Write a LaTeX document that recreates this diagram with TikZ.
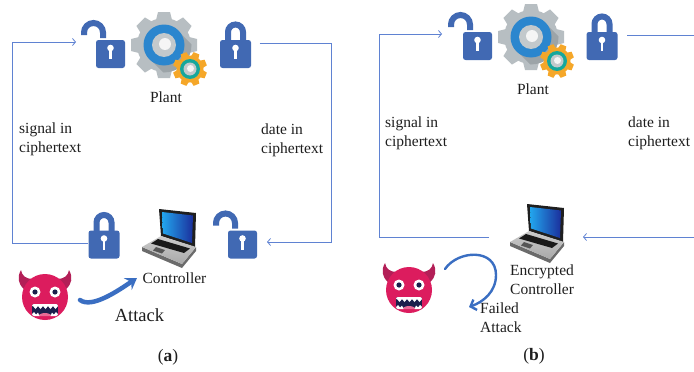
\documentclass[tikz,border=0pt]{standalone}
\usepackage{fontspec}
\setmainfont{Liberation Serif}
\usetikzlibrary{arrows.meta,calc}

\definecolor{lockblue}{HTML}{4169B3}
\definecolor{flowc}{HTML}{5F82D2}
\definecolor{attackc}{HTML}{3A6EC2}
\definecolor{geargray}{HTML}{B7BEC2}
\definecolor{gearshadow}{HTML}{9CA4A8}
\definecolor{gearblue}{HTML}{2B86CE}
\definecolor{gearinner}{HTML}{C3C9CC}
\definecolor{gearorange}{HTML}{F5A729}
\definecolor{gearteal}{HTML}{16A79C}
\definecolor{devilred}{HTML}{DC1C5E}
\definecolor{devilhorn}{HTML}{B31F57}
\definecolor{devilnavy}{HTML}{1B1F4C}
\definecolor{lapgray}{HTML}{A9A9A9}
\definecolor{lapdark}{HTML}{6B6B6B}
\definecolor{screenl}{HTML}{22A6EE}
\definecolor{screenr}{HTML}{1B2F9C}
\definecolor{textc}{HTML}{1E1E1E}

\tikzset{
  % padlock, shackle closed
  lockshut/.pic={
    \fill[lockblue, rounded corners=2.5pt] (-15.5,-24) rectangle (15.5,4);
    \draw[lockblue, line width=6pt] (-7.5,3) -- (-7.5,12) arc[start angle=180, end angle=0, radius=7.5] -- (7.5,3);
    \fill[white] (0,-4) circle[radius=3.3];
    \fill[white] (-1.3,-5) rectangle (1.3,-15);
  },
  % padlock, shackle open
  lockopen/.pic={
    \fill[lockblue, rounded corners=2.5pt] (-7,-24) rectangle (22,4);
    \draw[lockblue, line width=6pt] (-19,9) -- (-19,11.5) arc[start angle=180, end angle=0, radius=9.5] -- (0,6);
    \fill[white] (7.5,-4) circle[radius=3.3];
    \fill[white] (6.2,-5) rectangle (8.8,-15);
  },
  % pair of gears
  gearicon/.pic={
    \fill[geargray] (0,0) circle[radius=27];
    \foreach \a in {0,45,...,315}
      \fill[geargray, rotate=\a] (-8,25) -- (-6,33) -- (6,33) -- (8,25) -- cycle;
    \begin{scope}
      \clip (0,0) circle[radius=27.5];
      \fill[gearshadow] (14.1,14.1) -- (44,-16) -- (16,-44) -- (-14.1,-14.1) -- cycle;
    \end{scope}
    \fill[gearblue] (0,0) circle[radius=20.5];
    \fill[gearinner] (0,0) circle[radius=12];
    \fill[white!92!gray] (1,1) circle[radius=6];
    \begin{scope}[shift={(26,-24)}]
      \fill[gearorange] (0,0) circle[radius=13.5];
      \foreach \a in {0,45,...,315}
        \fill[gearorange, rotate=\a+22.5] (-4,12) -- (-3,17) -- (3,17) -- (4,12) -- cycle;
      \fill[gearteal] (0,0) circle[radius=10];
      \fill[gearinner] (0,0) circle[radius=6.5];
      \fill[white!92!gray] (0.5,0.5) circle[radius=3.5];
    \end{scope}
  },
  % laptop seen from the front left
  laptopicon/.pic={
    \fill[black!88] (-10,30) -- (27,26) -- (26,-8) -- (-8,3) -- cycle;
    \shade[left color=screenl, right color=screenr] (-7,27) -- (24,23.5) -- (23,-4) -- (-6,5.5) -- cycle;
    \fill[lapdark] (-27,-8) -- (-27,-12) -- (13,-29) -- (27,-12) -- (27,-8) -- (13,-25) -- cycle;
    \shade[top color=lapgray!60!white, bottom color=lapgray] (-8,3) -- (27,-8) -- (13,-25) -- (-27,-8) -- cycle;
    \fill[black!90] (-11,0) -- (21,-9.5) -- (15,-14) -- (-18,-4.5) -- cycle;
    \fill[lapdark!80!black] (-13,-8) -- (-4,-11) -- (-7,-14.5) -- (-16,-11.5) -- cycle;
  },
  % devil face
  devilicon/.pic={
    \fill[devilhorn] (-12,18) .. controls (-19,18) and (-23,21) .. (-24,27) .. controls (-28,20) and (-27,13) .. (-21,8) -- cycle;
    \fill[devilhorn] (12,18) .. controls (19,18) and (23,21) .. (24,27) .. controls (28,20) and (27,13) .. (21,8) -- cycle;
    \fill[devilred] (0,0) circle[radius=23];
    \foreach \s in {-1,1} {
      \fill[white] (\s*10,5) circle[radius=5.5];
      \fill[devilnavy] (\s*10,5) circle[radius=2.6];
    }
    \begin{scope}
      \clip[rounded corners=2pt] (-13,-7) rectangle (13,-19);
      \fill[devilnavy] (-13,-7) rectangle (13,-19);
      \fill[devilred!65!white] (0,-20) ellipse[x radius=7, y radius=4];
      \fill[white] (-13,-7) -- (13,-7) -- (13,-9) -- (10.5,-12) -- (8,-9) -- (5.5,-12) -- (3,-9) -- (0.5,-12) -- (-2,-9) -- (-4.5,-12) -- (-7,-9) -- (-9.5,-12) -- (-12,-9) -- (-13,-9) -- cycle;
      \fill[white] (-13,-19) -- (-13,-17) -- (-11,-15) -- (-9,-17.5) -- (-7,-15.5) -- (-5.5,-19) -- cycle;
      \fill[white] (13,-19) -- (13,-17) -- (11,-15) -- (9,-17.5) -- (7,-15.5) -- (5.5,-19) -- cycle;
    \end{scope}
  },
  iconnode/.style={inner sep=0pt, outer sep=0pt},
  shutlock/.style={iconnode, minimum width=32pt, minimum height=50pt,
    path picture={\pic[yscale=-1] at (path picture bounding box.center) {lockshut};}},
  openlock/.style={iconnode, minimum width=44pt, minimum height=50pt,
    path picture={\pic[yscale=-1] at (path picture bounding box.center) {lockopen};}},
  gearnode/.style={iconnode, minimum width=90pt, minimum height=90pt,
    path picture={\pic[yscale=-1] at (path picture bounding box.center) {gearicon};}},
  laptopnode/.style={iconnode, minimum width=60pt, minimum height=64pt,
    path picture={\pic[yscale=-1] at (path picture bounding box.center) {laptopicon};}},
  devilnode/.style={iconnode, minimum width=56pt, minimum height=58pt,
    path picture={\pic[yscale=-1] at (path picture bounding box.center) {devilicon};}},
  txt/.style={inner sep=0pt, text=textc, align=left, font=\fontsize{15.5}{18.8}\selectfont},
  bigtxt/.style={inner sep=0pt, text=textc, font=\fontsize{18.5}{21}\selectfont},
  caption/.style={inner sep=0pt, text=textc, font=\fontsize{17.5}{20}\selectfont},
  flowline/.style={draw=flowc, line width=0.8pt},
  flow/.style={flowline, -{Straight Barb[length=3pt,width=7pt]}},
  attack/.style={draw=attackc, line width=4.5pt, line cap=round, -{Stealth[length=11pt,width=14pt,inset=4pt]}},
  failed/.style={draw=attackc, line width=2.4pt, line cap=round, -{Straight Barb[length=5pt,width=11pt]}},
}

\begin{document}
\begin{tikzpicture}[x=1pt, y=-1pt]
\useasboundingbox (0,0) rectangle (694,372);

% ---------------- (a) ----------------
\node[openlock] (a-lk1) at (103,44) {};
\node[gearnode] (a-gear) at (164,45) {};
\node[shutlock] (a-lk2) at (235.5,44) {};
\node[txt] (a-plant) at (166,97) {Plant};
\node[txt, anchor=west] (a-sig) at (19,139) {signal in\\ciphertext};
\node[txt, anchor=west] (a-dat) at (261,140) {date in\\ciphertext};
\node[shutlock] (a-lk3) at (104,234.5) {};
\node[laptopnode] (a-lap) at (169,239) {};
\node[openlock] (a-lk4) at (235,234.5) {};
\node[txt] (a-ctl) at (174.5,278) {Controller};
\node[devilnode] (a-dev) at (45,297) {};
\node[bigtxt] (a-att) at (139.5,315) {Attack};
\node[caption] (a-cap) at (168,357) {(\textbf{a})};

\coordinate (a-c1) at (12,42);
\coordinate (a-c2) at (331,242);
\draw[flow, shorten >=5pt] ([yshift=-8.5pt]a-lk3.west) -| (a-c1) -- ([yshift=2pt]a-lk1.west);
\draw[flow, shorten <=8pt, shorten >=10pt] ([yshift=1pt]a-lk2.east) -| (a-c2) -- ([yshift=-7.5pt]a-lk4.east);
\draw[attack] ($(a-dev.east)+(7,3)$) .. controls +(12,9) and +(-18,12) .. ($(a-lap.south west)+(-2,7)$);

% ---------------- (b) ----------------
\node[openlock] (b-lk1) at (470,36) {};
\node[gearnode] (b-gear) at (531,37) {};
\node[shutlock] (b-lk2) at (602,36) {};
\node[txt] (b-plant) at (533,89) {Plant};
\node[txt, anchor=west] (b-sig) at (385,133.5) {signal in\\ciphertext};
\node[txt, anchor=west] (b-dat) at (628,133.5) {date in\\ciphertext};
\node[laptopnode] (b-lap) at (537,234) {};
\node[txt, anchor=west] (b-ctl) at (510,279.5) {Encrypted\\Controller};
\node[devilnode] (b-dev) at (409,290) {};
\node[txt, anchor=west] (b-fail) at (480,318) {Failed\\Attack};
\node[caption] (b-cap) at (534,356) {(\textbf{b})};

\coordinate (b-c1) at (379,34);
\coordinate (b-e1) at (694,35);
\coordinate (b-e2) at (694,237);
\coordinate (b-bend) at (496,275);
\draw[flow, shorten <=18pt, shorten >=6pt] ([yshift=-3pt]b-lap.west) -| (b-c1) -- ([yshift=2pt]b-lk1.west);
\draw[flowline, shorten <=9pt] ([yshift=1pt]b-lk2.east) -- (b-e1);
\draw[flow, shorten >=16pt] (b-e2) -- ([yshift=-3pt]b-lap.east);
\draw[failed] ($(b-dev.north east)+(8,8)$) .. controls +(13,-19) and +(0,-27) .. (b-bend)
  .. controls +(0,17) and +(14,-5) .. ($(b-fail.west)+(-11,-11)$);
\end{tikzpicture}
\end{document}
